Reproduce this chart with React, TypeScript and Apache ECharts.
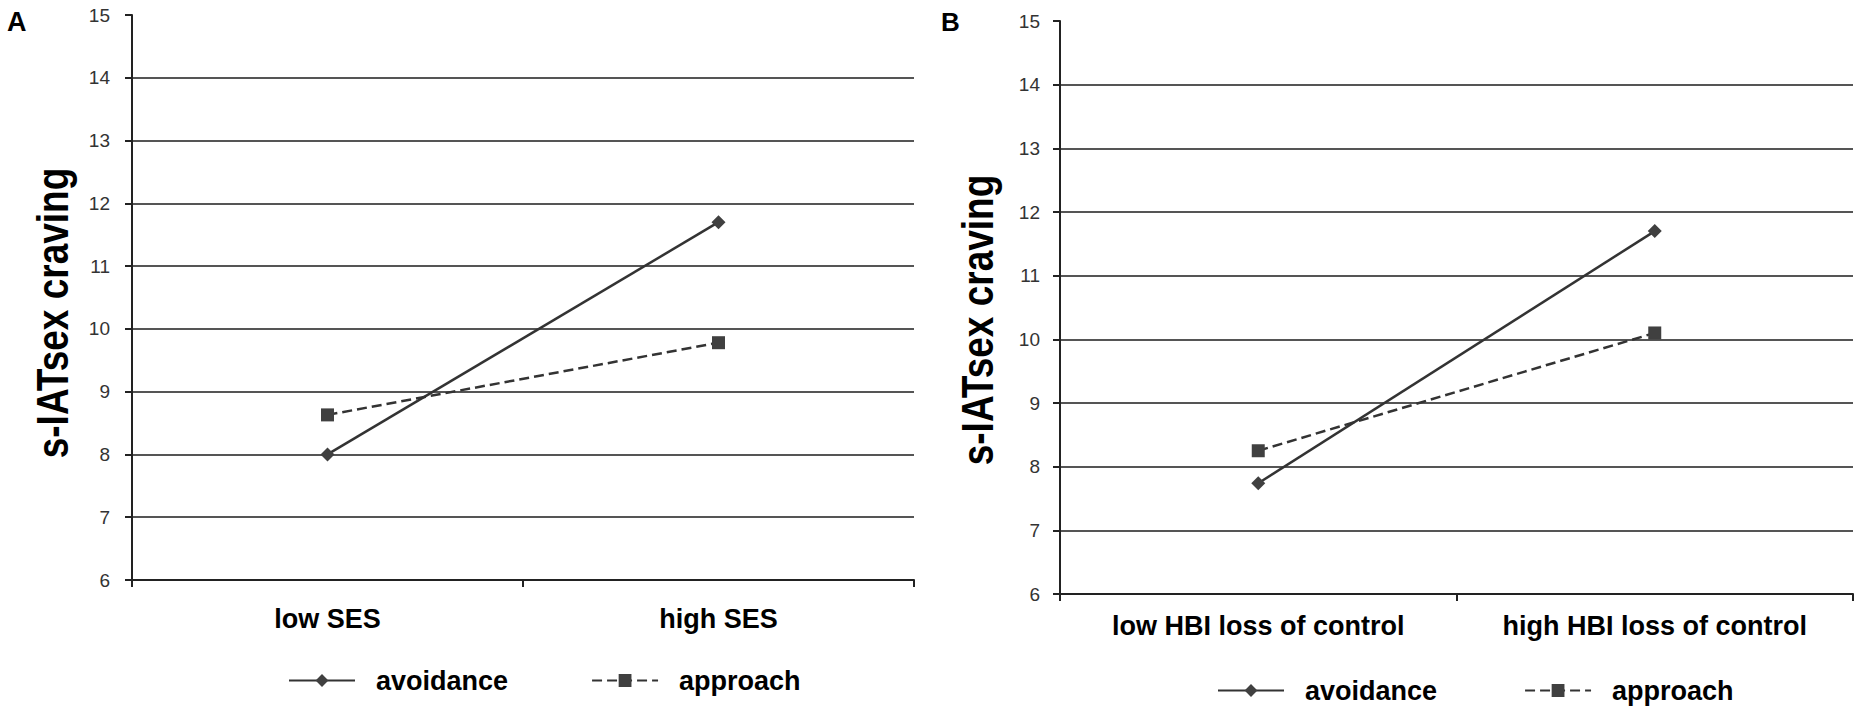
import React, { useEffect, useRef } from "react";
import * as echarts from "echarts";

const categoriesA = ["low SES", "high SES"];
const categoriesB = ["low HBI loss of control", "high HBI loss of control"];
const avoidanceA = [8.0, 11.7];
const approachA = [8.63, 9.78];
const avoidanceB = [7.74, 11.7];
const approachB = [8.25, 10.1];
const yMin = 6;
const yMax = 15;
const yTitle = "s-IATsex craving";
const seriesNames = ["avoidance", "approach"];
const panelLabels = ["A", "B"];

const FONT = "'Liberation Sans', Arial, Helvetica, sans-serif";
const LINE = "#333333";
const MARK = "#404040";
const GRID = "#555555";

export default function App() {
  const ref = useRef<HTMLDivElement>(null);
  useEffect(() => {
    document.body.style.margin = "0";
    if (!ref.current) return;
    const chart = echarts.init(ref.current, null, { renderer: "svg" });

    const splitColors: string[] = [];
    for (let v = yMin; v <= yMax; v++) splitColors.push(v === yMax ? "rgba(0,0,0,0)" : GRID);

    const yAxisBase = (gridIndex: number, margin: number) => ({
      type: "value",
      gridIndex,
      min: yMin,
      max: yMax,
      interval: 1,
      axisLine: { show: true, lineStyle: { color: "#222", width: 2 } },
      axisTick: { show: true, inside: false, length: 7, lineStyle: { color: "#222", width: 2 } },
      axisLabel: { color: "#333", fontSize: 19, fontFamily: FONT, margin },
      splitLine: { show: true, lineStyle: { color: splitColors, width: 2 } },
    });

    const xAxisBase = (gridIndex: number, data: string[], margin: number) => ({
      type: "category",
      gridIndex,
      data,
      boundaryGap: true,
      axisLine: { show: true, lineStyle: { color: "#222", width: 2 } },
      axisTick: { show: true, length: 7, lineStyle: { color: "#222", width: 2 } },
      axisLabel: {
        interval: 0,
        color: "#000",
        fontSize: 27,
        fontWeight: "bold",
        fontFamily: FONT,
        margin,
      },
      splitLine: { show: false },
    });

    const avoidStyle = {
      type: "line",
      symbol: "diamond",
      symbolSize: 14,
      itemStyle: { color: MARK },
      lineStyle: { color: LINE, width: 2.5, type: "solid" },
    };
    const approachStyle = {
      type: "line",
      symbol: "rect",
      symbolSize: 13,
      itemStyle: { color: MARK },
      lineStyle: { color: LINE, width: 2.5, type: [10, 5] },
    };

    const legendBase = (left: number, top: number, gap: number) => ({
      left,
      top,
      orient: "horizontal",
      data: seriesNames,
      itemWidth: 66,
      itemHeight: 16,
      itemGap: gap,
      selectedMode: false,
      textStyle: {
        color: "#000",
        fontSize: 27,
        fontWeight: "bold",
        fontFamily: FONT,
        padding: [0, 0, 0, 16],
      },
    });

    const option: any = {
      animation: false,
      backgroundColor: "#fff",
      grid: [
        { left: 132, top: 15, width: 782, height: 565 },
        { left: 1060, top: 21, width: 793, height: 573 },
      ],
      xAxis: [xAxisBase(0, categoriesA, 25), xAxisBase(1, categoriesB, 18)],
      yAxis: [yAxisBase(0, 22), yAxisBase(1, 20)],
      legend: [legendBase(283, 662, 83), legendBase(1212, 672, 87)],
      series: [
        { ...avoidStyle, name: seriesNames[0], xAxisIndex: 0, yAxisIndex: 0, data: avoidanceA },
        { ...approachStyle, name: seriesNames[1], xAxisIndex: 0, yAxisIndex: 0, data: approachA },
        { ...avoidStyle, name: seriesNames[0], xAxisIndex: 1, yAxisIndex: 1, data: avoidanceB },
        { ...approachStyle, name: seriesNames[1], xAxisIndex: 1, yAxisIndex: 1, data: approachB },
      ],
      graphic: [
        {
          type: "text",
          x: 7,
          y: 8,
          style: { text: panelLabels[0], font: `bold 27px ${FONT}`, fill: "#000", textAlign: "left", textVerticalAlign: "top" },
        },
        {
          type: "text",
          x: 941,
          y: 9,
          style: { text: panelLabels[1], font: `bold 26px ${FONT}`, fill: "#000", textAlign: "left", textVerticalAlign: "top" },
        },
        {
          type: "text",
          x: 53,
          y: 313,
          rotation: Math.PI / 2,
          scaleY: 1.2,
          style: { text: yTitle, font: `bold 37px ${FONT}`, fill: "#000", textAlign: "center", textVerticalAlign: "middle" },
        },
        {
          type: "text",
          x: 978,
          y: 320,
          rotation: Math.PI / 2,
          scaleY: 1.2,
          style: { text: yTitle, font: `bold 37px ${FONT}`, fill: "#000", textAlign: "center", textVerticalAlign: "middle" },
        },
      ],
    };
    chart.setOption(option);
    return () => chart.dispose();
  }, []);
  return <div ref={ref} style={{ width: 1860, height: 706 }} />;
}
